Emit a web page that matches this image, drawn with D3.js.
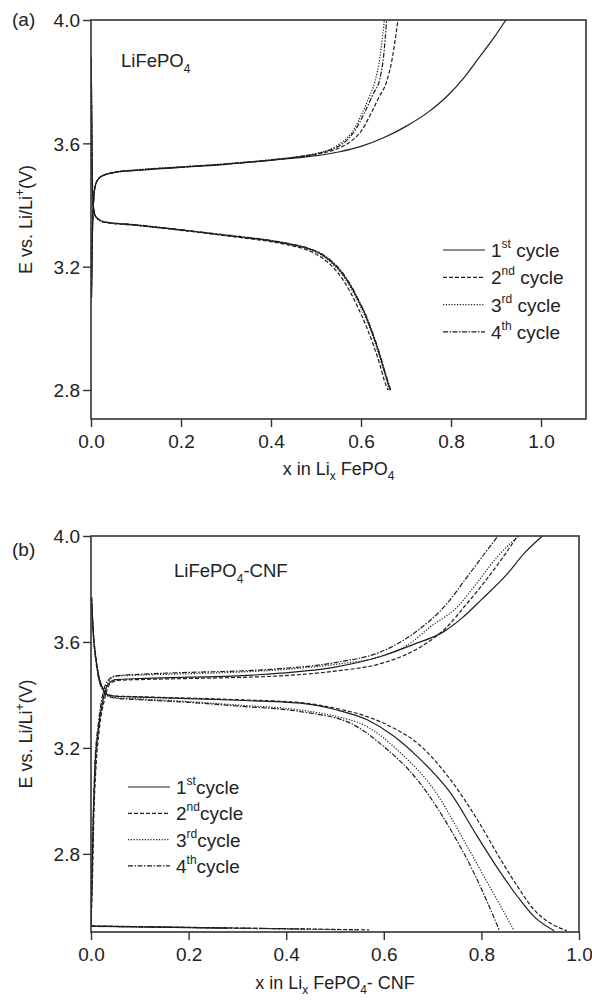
<!DOCTYPE html>
<html>
<head>
<meta charset="utf-8">
<script src="https://cdn.jsdelivr.net/npm/d3@7"></script>
<style>
  html, body { margin: 0; padding: 0; background: #fff; }
  svg { display: block; font-family: "Liberation Sans", Arial, sans-serif; }
</style>
</head>
<body>
<svg id="chart" width="592" height="1000"></svg>
<script>
// Voltage profiles, [x, E (V)] pairs.
// Panel (a): LiFePO4 — charge branches
const chargeA1 = [[0.001,3.10],[0.003,3.30],[0.006,3.42],[0.01,3.465],[0.02,3.49],[0.05,3.505],[0.1,3.512],[0.2,3.522],[0.3,3.532],[0.4,3.545],[0.5,3.56],[0.55,3.572],[0.6,3.59],[0.65,3.618],[0.7,3.655],[0.75,3.702],[0.79,3.751],[0.83,3.815],[0.864,3.881],[0.895,3.942],[0.922,4.0]];
const chargeA2 = [[0.001,3.10],[0.003,3.30],[0.006,3.42],[0.01,3.465],[0.02,3.49],[0.05,3.506],[0.1,3.513],[0.2,3.523],[0.3,3.533],[0.4,3.546],[0.46,3.556],[0.5,3.565],[0.53,3.574],[0.555,3.587],[0.578,3.607],[0.598,3.635],[0.62,3.69],[0.64,3.75],[0.657,3.80],[0.67,3.88],[0.682,4.0]];
const chargeA3 = [[0.001,3.10],[0.003,3.30],[0.006,3.42],[0.01,3.465],[0.02,3.49],[0.05,3.506],[0.1,3.514],[0.2,3.524],[0.3,3.534],[0.4,3.547],[0.46,3.557],[0.5,3.567],[0.525,3.577],[0.546,3.592],[0.565,3.612],[0.582,3.64],[0.6,3.69],[0.618,3.75],[0.631,3.80],[0.642,3.88],[0.652,4.0]];
const chargeA4 = [[0.001,3.10],[0.003,3.30],[0.006,3.42],[0.01,3.465],[0.02,3.49],[0.05,3.505],[0.1,3.513],[0.2,3.523],[0.3,3.533],[0.4,3.546],[0.46,3.556],[0.5,3.566],[0.527,3.576],[0.55,3.59],[0.57,3.612],[0.588,3.645],[0.608,3.70],[0.627,3.76],[0.642,3.81],[0.65,3.88],[0.657,4.0]];
// Panel (a): discharge branches
const dischargeA1 = [[0.0005,3.88],[0.002,3.60],[0.004,3.42],[0.008,3.37],[0.015,3.355],[0.03,3.345],[0.1,3.335],[0.2,3.319],[0.3,3.302],[0.4,3.284],[0.44,3.274],[0.48,3.26],[0.51,3.242],[0.535,3.215],[0.555,3.185],[0.576,3.14],[0.595,3.088],[0.613,3.032],[0.628,2.974],[0.642,2.912],[0.654,2.852],[0.665,2.8]];
const dischargeA2 = [[0.0005,3.88],[0.002,3.60],[0.004,3.42],[0.008,3.37],[0.015,3.355],[0.03,3.344],[0.1,3.334],[0.2,3.318],[0.3,3.30],[0.4,3.281],[0.44,3.27],[0.48,3.254],[0.51,3.232],[0.535,3.202],[0.555,3.168],[0.576,3.118],[0.595,3.062],[0.613,3.002],[0.628,2.944],[0.642,2.882],[0.652,2.83],[0.66,2.8]];
const dischargeA3 = [[0.0005,3.88],[0.002,3.60],[0.004,3.42],[0.008,3.37],[0.015,3.355],[0.03,3.345],[0.1,3.335],[0.2,3.319],[0.3,3.301],[0.4,3.283],[0.44,3.272],[0.48,3.258],[0.51,3.239],[0.535,3.211],[0.555,3.18],[0.576,3.134],[0.595,3.082],[0.613,3.024],[0.628,2.966],[0.642,2.904],[0.654,2.846],[0.663,2.8]];
const dischargeA4 = [[0.0005,3.88],[0.002,3.60],[0.004,3.42],[0.008,3.37],[0.015,3.356],[0.03,3.346],[0.1,3.336],[0.2,3.32],[0.3,3.303],[0.4,3.285],[0.44,3.275],[0.48,3.261],[0.51,3.244],[0.535,3.218],[0.555,3.188],[0.576,3.143],[0.595,3.091],[0.613,3.035],[0.628,2.977],[0.642,2.915],[0.654,2.856],[0.666,2.8]];

// Panel (b): LiFePO4-CNF — charge branches
const chargeB1 = [[0.0,2.527],[0.002,2.70],[0.005,2.95],[0.008,3.12],[0.015,3.27],[0.025,3.385],[0.035,3.44],[0.05,3.458],[0.1,3.462],[0.2,3.467],[0.3,3.472],[0.388,3.482],[0.5,3.505],[0.593,3.545],[0.66,3.59],[0.723,3.639],[0.76,3.69],[0.799,3.758],[0.854,3.859],[0.888,3.935],[0.925,4.0]];
const chargeB2 = [[0.0,2.527],[0.003,2.70],[0.006,2.95],[0.01,3.12],[0.017,3.27],[0.028,3.385],[0.038,3.44],[0.055,3.455],[0.1,3.458],[0.2,3.462],[0.3,3.466],[0.388,3.472],[0.5,3.49],[0.593,3.518],[0.676,3.582],[0.73,3.658],[0.765,3.733],[0.799,3.809],[0.84,3.909],[0.874,4.0]];
const chargeB3 = [[0.0,2.527],[0.002,2.70],[0.005,2.95],[0.009,3.12],[0.016,3.28],[0.026,3.40],[0.036,3.45],[0.05,3.47],[0.1,3.475],[0.2,3.48],[0.3,3.486],[0.388,3.495],[0.5,3.515],[0.593,3.545],[0.65,3.59],[0.696,3.658],[0.751,3.733],[0.785,3.809],[0.833,3.922],[0.867,3.985],[0.877,4.0]];
const chargeB4 = [[0.0,2.527],[0.002,2.72],[0.005,2.97],[0.008,3.14],[0.015,3.29],[0.025,3.41],[0.035,3.455],[0.05,3.472],[0.1,3.478],[0.2,3.485],[0.3,3.49],[0.388,3.499],[0.5,3.522],[0.593,3.562],[0.662,3.633],[0.73,3.746],[0.771,3.846],[0.812,3.947],[0.834,4.0]];
// Panel (b): discharge branches
const dischargeB1 = [[0.001,3.77],[0.005,3.63],[0.01,3.54],[0.016,3.47],[0.024,3.425],[0.035,3.40],[0.05,3.395],[0.1,3.392],[0.2,3.386],[0.3,3.38],[0.429,3.369],[0.5,3.345],[0.566,3.306],[0.62,3.245],[0.669,3.167],[0.737,3.029],[0.792,2.865],[0.84,2.727],[0.874,2.639],[0.908,2.563],[0.949,2.51]];
const dischargeB2 = [[0.001,3.77],[0.005,3.63],[0.01,3.54],[0.016,3.47],[0.024,3.425],[0.035,3.40],[0.05,3.396],[0.1,3.393],[0.2,3.388],[0.3,3.382],[0.429,3.371],[0.5,3.35],[0.566,3.318],[0.62,3.275],[0.669,3.218],[0.737,3.079],[0.792,2.928],[0.84,2.777],[0.874,2.677],[0.908,2.589],[0.94,2.54],[0.975,2.51]];
const dischargeB3 = [[0.001,3.77],[0.005,3.62],[0.01,3.53],[0.016,3.46],[0.024,3.42],[0.035,3.397],[0.05,3.39],[0.1,3.385],[0.2,3.375],[0.3,3.362],[0.429,3.343],[0.5,3.32],[0.566,3.28],[0.635,3.18],[0.703,3.042],[0.771,2.828],[0.813,2.689],[0.84,2.601],[0.867,2.51]];
const dischargeB4 = [[0.001,3.77],[0.005,3.62],[0.01,3.53],[0.016,3.46],[0.024,3.42],[0.035,3.395],[0.05,3.388],[0.1,3.382],[0.2,3.372],[0.3,3.358],[0.429,3.337],[0.532,3.293],[0.6,3.205],[0.669,3.079],[0.737,2.891],[0.785,2.727],[0.813,2.614],[0.837,2.51]];
// Panel (b): low-voltage rest segments along the bottom
const restB1 = [[0.0,2.527],[0.28,2.52]];
const restB2 = [[0.0,2.528],[0.3,2.52],[0.57,2.513]];
const restB3 = [[0.0,2.526],[0.3,2.519],[0.55,2.513]];
const restB4 = [[0.0,2.527],[0.45,2.516]];

// Axis ticks
const xTicks = [0.0, 0.2, 0.4, 0.6, 0.8, 1.0];
const yTicks = [2.8, 3.2, 3.6, 4.0];
const cycleNums = ["1", "2", "3", "4"];
const cycleSups = ["st", "nd", "rd", "th"];

// Line style for each cycle
const dashes = [null, "4,2", "1.2,1.6", "5,1.5,1.5,1.5"];
const ink = "#1e1e1e";
const textInk = "#222";

const svg = d3.select("#chart");

function drawPanel(p) {
  const x = d3.scaleLinear().domain(p.xDomain).range([p.left, p.right]);
  const y = d3.scaleLinear().domain(p.yDomain).range([p.bottom, p.top]);
  const g = svg.append("g");

  const clipId = "clip-" + p.id;
  svg.append("clipPath").attr("id", clipId)
    .append("rect").attr("x", p.left).attr("y", p.top - 1)
    .attr("width", p.right - p.left).attr("height", p.bottom - p.top + 1);

  const line = d3.line().x(d => x(d[0])).y(d => y(d[1]))
    .curve(d3.curveMonotoneX);

  const curves = g.append("g").attr("clip-path", `url(#${clipId})`);
  p.series.forEach(s => {
    curves.append("path")
      .attr("d", line(s.data))
      .attr("fill", "none")
      .attr("stroke", ink)
      .attr("stroke-width", 1.2)
      .attr("stroke-dasharray", dashes[s.cycle]);
  });

  // Axes
  const xAxis = d3.axisBottom(x).tickValues(xTicks).tickFormat(d3.format(".1f")).tickSize(8).tickSizeOuter(0);
  const yAxis = d3.axisLeft(y).tickValues(yTicks).tickFormat(d3.format(".1f")).tickSize(8).tickSizeOuter(0);
  const gx = g.append("g").attr("transform", `translate(0,${p.bottom})`).call(xAxis);
  const gy = g.append("g").attr("transform", `translate(${p.left},0)`).call(yAxis);
  [gx, gy].forEach(a => {
    a.select(".domain").remove();
    a.selectAll(".tick line").attr("stroke", "#333").attr("stroke-width", 1.4);
    a.selectAll(".tick text").attr("fill", textInk).attr("font-size", 19)
      .attr("font-family", "'Liberation Sans', Arial, sans-serif");
  });
  gx.selectAll(".tick text").attr("dy", null).attr("y", 29);
  gy.selectAll(".tick text").attr("x", -11).attr("dy", "0.36em");

  // Frame
  g.append("rect").attr("x", p.left).attr("y", p.top)
    .attr("width", p.right - p.left).attr("height", p.bottom - p.top)
    .attr("fill", "none").attr("stroke", "#333").attr("stroke-width", 1.6);

  // Panel letter and sample label
  g.append("text").attr("x", 12).attr("y", p.top + p.letterDy)
    .attr("font-size", 19).attr("fill", textInk).text(p.letter);
  const sample = g.append("text").attr("x", p.sampleX).attr("y", p.sampleY)
    .attr("font-size", 18.5).attr("fill", textInk);
  sample.append("tspan").text("LiFePO");
  sample.append("tspan").attr("dy", 6).attr("font-size", 12).text("4");
  if (p.sampleTail) sample.append("tspan").attr("dy", -6).text(p.sampleTail);

  // X title
  const xt = g.append("text").attr("x", (p.left + p.right) / 2).attr("y", p.xTitleY)
    .attr("text-anchor", "middle").attr("font-size", 18).attr("fill", textInk);
  xt.append("tspan").text("x in Li");
  xt.append("tspan").attr("dy", 5).attr("font-size", 12).text("x");
  xt.append("tspan").attr("dy", -5).text(" FePO");
  xt.append("tspan").attr("dy", 5).attr("font-size", 12).text("4");
  if (p.xTitleTail) xt.append("tspan").attr("dy", -5).text(p.xTitleTail);

  // Y title
  const yt = g.append("text")
    .attr("transform", `translate(32,${(p.top + p.bottom) / 2}) rotate(-90)`)
    .attr("text-anchor", "middle").attr("font-size", 18).attr("fill", textInk);
  yt.append("tspan").text("E vs. Li/Li");
  yt.append("tspan").attr("dy", -8).attr("font-size", 12).text("+");
  yt.append("tspan").attr("dy", 8).text("(V)");

  // Legend
  const lg = g.append("g");
  cycleNums.forEach((n, i) => {
    const cy = p.legendY + i * p.legendStep;
    lg.append("line").attr("x1", p.legendX).attr("x2", p.legendX + 42)
      .attr("y1", cy).attr("y2", cy)
      .attr("stroke", ink).attr("stroke-width", 1.2)
      .attr("stroke-dasharray", dashes[i]);
    const t = lg.append("text").attr("x", p.legendX + 48).attr("y", cy + 7)
      .attr("font-size", 19).attr("fill", textInk);
    t.append("tspan").text(n);
    t.append("tspan").attr("dy", -9).attr("font-size", 12).text(cycleSups[i]);
    t.append("tspan").attr("dy", 9).text(p.legendGap + "cycle");
  });
}

drawPanel({
  id: "a", left: 91, right: 586, top: 20, bottom: 419,
  xDomain: [0, 1.1], yDomain: [2.706, 4.0],
  letter: "(a)", letterDy: 6, sampleX: 121, sampleY: 67, sampleTail: null,
  xTitleY: 475, xTitleTail: null,
  legendX: 443, legendY: 250, legendStep: 27.3, legendGap: " ",
  series: [
    { cycle: 0, data: chargeA1 }, { cycle: 1, data: chargeA2 },
    { cycle: 2, data: chargeA3 }, { cycle: 3, data: chargeA4 },
    { cycle: 0, data: dischargeA1 }, { cycle: 1, data: dischargeA2 },
    { cycle: 2, data: dischargeA3 }, { cycle: 3, data: dischargeA4 }
  ]
});

drawPanel({
  id: "b", left: 91, right: 579, top: 536, bottom: 932,
  xDomain: [0, 1.0], yDomain: [2.505, 4.0],
  letter: "(b)", letterDy: 20, sampleX: 174, sampleY: 577, sampleTail: "-CNF",
  xTitleY: 989, xTitleTail: "- CNF",
  legendX: 128, legendY: 787, legendStep: 26.3, legendGap: "",
  series: [
    { cycle: 0, data: chargeB1 }, { cycle: 1, data: chargeB2 },
    { cycle: 2, data: chargeB3 }, { cycle: 3, data: chargeB4 },
    { cycle: 0, data: dischargeB1 }, { cycle: 1, data: dischargeB2 },
    { cycle: 2, data: dischargeB3 }, { cycle: 3, data: dischargeB4 },
    { cycle: 0, data: restB1 }, { cycle: 1, data: restB2 },
    { cycle: 2, data: restB3 }, { cycle: 3, data: restB4 }
  ]
});
</script>
</body>
</html>
